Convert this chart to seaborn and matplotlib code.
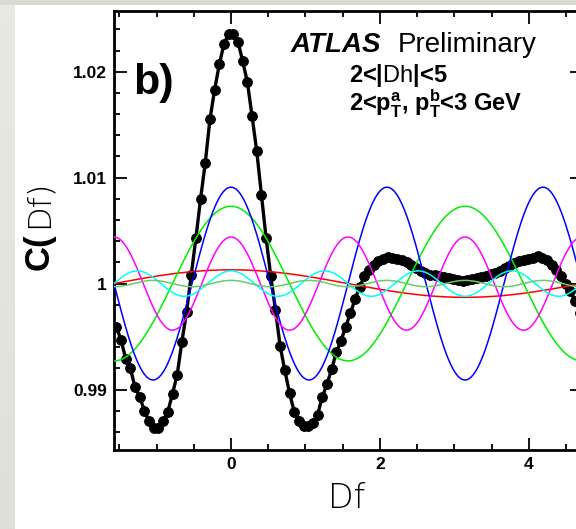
import numpy as np
import pandas as pd
import matplotlib
matplotlib.use("Agg")
from matplotlib import pyplot as plt
from matplotlib.ticker import MultipleLocator, FixedLocator, FixedFormatter
import seaborn as sns

sns.set_style("ticks")
plt.rcParams['font.family'] = ['Liberation Sans', 'DejaVu Sans']
plt.rcParams['mathtext.fontset'] = 'custom'
plt.rcParams['mathtext.bf'] = 'Liberation Sans:bold'
plt.rcParams['mathtext.rm'] = 'Liberation Sans'
plt.rcParams['text.color'] = 'black'
plt.rcParams['xtick.color'] = 'black'
plt.rcParams['ytick.color'] = 'black'

# data: C(dphi), 100 bins over [-pi/2, 3pi/2]
n_bins = 100
corr = [
    0.9959, 0.9947, 0.9929, 0.9920, 0.9902, 0.9893, 0.9880, 0.9870, 0.9864, 0.9864,
    0.9870, 0.9879, 0.9896, 0.9914, 0.9945, 0.9973, 1.0008, 1.0043, 1.0080, 1.0114,
    1.0155, 1.0183, 1.0207, 1.0226, 1.0236, 1.0236, 1.0228, 1.0210, 1.0190, 1.0158,
    1.0125, 1.0084, 1.0043, 1.0007, 0.9975, 0.9941, 0.9918, 0.9897, 0.9879, 0.9870,
    0.9866, 0.9866, 0.9868, 0.9876, 0.9893, 0.9905, 0.9919, 0.9935, 0.9946, 0.9959,
    0.9972, 0.9985, 0.9997, 1.0007, 1.0013, 1.0018, 1.0021, 1.0023, 1.0025, 1.0024,
    1.0023, 1.0022, 1.0020, 1.0018, 1.0015, 1.0012, 1.0010, 1.0008, 1.0008, 1.0007,
    1.0006, 1.0005, 1.0004, 1.0003, 1.0002, 1.0003, 1.0004, 1.0005, 1.0006, 1.0007,
    1.0009, 1.0010, 1.0012, 1.0015, 1.0017, 1.0019, 1.0021, 1.0022, 1.0023, 1.0024,
    1.0026, 1.0024, 1.0022, 1.0018, 1.0013, 1.0007, 1.0000, 0.9993, 0.9984, 0.9972,
]

# Fourier components 2*v_n (n = 1..6) and their colours
harm_order = [1, 2, 3, 4, 5, 6]
harm_amp = [0.0013, 0.0073, 0.0091, 0.0044, 0.0012, 0.0003]
harm_color = ['#ff0000', '#00ee00', '#0000ff', '#ff00ff', '#00ffff', '#66cc66']

xticks = [0, 2, 4]
yticks = [0.99, 1.0, 1.01, 1.02]
ytick_labels = ['0.99', '1', '1.01', '1.02']

lo, hi = -np.pi / 2, 3 * np.pi / 2
phi = lo + (np.arange(n_bins) + 0.5) * (hi - lo) / n_bins
df = pd.DataFrame({'phi': phi, 'C': corr})

W, H = 576, 529
fig = plt.figure(figsize=(W / 100, H / 100), dpi=100)

# grey frame round the white pad
bg = fig.add_axes([0, 0, 1, 1], zorder=-5)
img = np.ones((H, W, 3))
yy = np.linspace(0, 1, H)[:, None, None]
img[:, :15, :] = np.array([0.91, 0.915, 0.89])[None, None, :] * (1 - 0.04 * yy) * np.ones((1, 15, 1))
img[:5, :, :] = np.array([0.85, 0.86, 0.82])
bg.imshow(img, aspect='auto', extent=[0, 1, 0, 1])
bg.axis('off')

ax = fig.add_axes([114 / W, 1 - 450 / H, 468 / W, 439 / H])

sns.lineplot(data=df, x='phi', y='C', ax=ax, color='black', linewidth=2.4,
             marker='o', markersize=7, markeredgecolor='black', zorder=2)

xs = np.linspace(lo, hi, 600)
for n, a, c in zip(harm_order, harm_amp, harm_color):
    hdf = pd.DataFrame({'phi': xs, 'C': 1 + a * np.cos(n * xs)})
    sns.lineplot(data=hdf, x='phi', y='C', ax=ax, color=c, linewidth=1.1, zorder=3)

ax.set_xlim(lo, hi)
ax.set_ylim(0.98429, 1.02573)
ax.xaxis.set_major_locator(FixedLocator(xticks))
ax.xaxis.set_minor_locator(MultipleLocator(0.5))
ax.yaxis.set_major_locator(FixedLocator(yticks))
ax.yaxis.set_major_formatter(FixedFormatter(ytick_labels))
ax.yaxis.set_minor_locator(MultipleLocator(0.002))
ax.tick_params(which='both', direction='in', top=True, right=True, width=1.3, color='black')
ax.tick_params(which='major', length=9, labelsize=12.5, pad=5, labelcolor='black')
ax.tick_params(which='minor', length=4.5)
for lab in ax.get_xticklabels() + ax.get_yticklabels():
    lab.set_fontweight('bold')
for s in ax.spines.values():
    s.set_linewidth(2.0)
    s.set_color('black')
ax.set_xlabel('')
ax.set_ylabel('')

# axis titles
fig.text(347 / W, 1 - 499 / H, 'Df', ha='center', va='center', fontsize=24,
         family=['DejaVu Sans'], fontweight='light')
fig.text(39 / W, 1 - 252 / H, 'C(', ha='center', va='center', fontsize=25,
         fontweight='bold', rotation=90)
fig.text(39 / W, 1 - 204 / H, 'Df)', ha='center', va='center', fontsize=23,
         family=['DejaVu Sans'], fontweight='light', rotation=90)

# labels in the pad
fig.text(133 / W, 1 - 94 / H, 'b)', fontsize=31, fontweight='bold', va='baseline')
fig.text(291 / W, 1 - 52 / H, 'ATLAS', fontsize=20, fontweight='bold',
         style='italic', va='baseline')
fig.text(537 / W, 1 - 52 / H, 'Preliminary', fontsize=20, va='baseline', ha='right')
fig.text(349 / W, 1 - 82 / H, r'2<|$\mathrm{Dh}$|<5', fontsize=17,
         fontweight='bold', va='baseline')
fig.text(349 / W, 1 - 111 / H, r'2<$\mathbf{p_{T}^{a}}$, $\mathbf{p_{T}^{b}}$<3 GeV',
         fontsize=17, fontweight='bold', va='baseline')

plt.savefig('out.png', dpi=100)
